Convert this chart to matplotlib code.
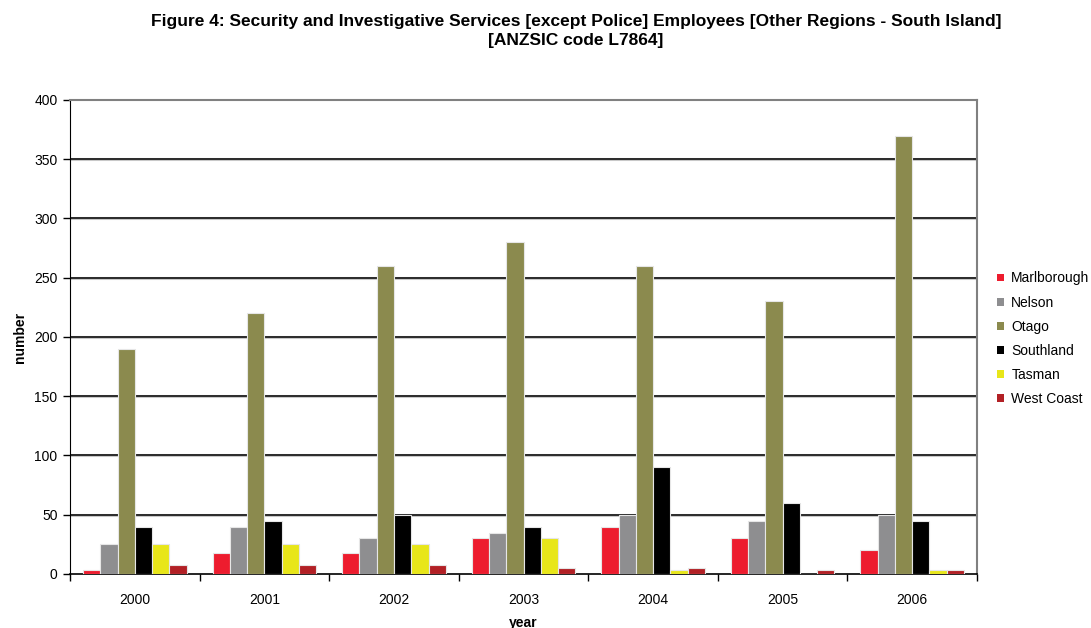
import numpy as np
import matplotlib
matplotlib.use("Agg")
import matplotlib.pyplot as plt
from matplotlib.patches import Patch

plt.rcParams['font.family'] = ['Liberation Sans', 'DejaVu Sans']

years = ['2000', '2001', '2002', '2003', '2004', '2005', '2006']
regions = ['Marlborough', 'Nelson', 'Otago', 'Southland', 'Tasman', 'West Coast']
marlborough = [3, 18, 18, 30, 40, 30, 20]
nelson = [25, 40, 30, 35, 50, 45, 50]
otago = [190, 220, 260, 280, 260, 230, 370]
southland = [40, 45, 50, 40, 90, 60, 45]
tasman = [25, 25, 25, 30, 3, 0, 3]
west_coast = [8, 8, 8, 5, 5, 3, 3]
series = [marlborough, nelson, otago, southland, tasman, west_coast]
colors = ['#ED1C2E', '#8E8E90', '#8B8A4E', '#000000', '#E8E619', '#B22025']

fig = plt.figure(figsize=(10.91, 6.28), dpi=100)
ax = fig.add_axes([0.0642, 0.086, 0.8313, 0.7548])

n = len(regions)
group = 0.8
w = group / n
x = np.arange(len(years))
for i, (vals, c) in enumerate(zip(series, colors)):
    offs = -group / 2 + w * (i + 0.5)
    ax.bar(x + offs, vals, width=w, color=c, edgecolor='#e6e6e6',
           linewidth=0.8, zorder=3)

ax.set_xlim(-0.5, len(years) - 0.5)
ax.set_ylim(0, 400)
ax.set_yticks(np.arange(0, 401, 50))
ax.set_xticks(x)
ax.set_xticklabels(years)
ax.set_xticks(np.arange(-0.5, len(years), 1), minor=True)
ax.tick_params(axis='x', which='major', length=0, pad=14, labelsize=10)
ax.tick_params(axis='x', which='minor', length=5, width=1, direction='out')
ax.tick_params(axis='y', length=5, width=1, direction='out', labelsize=10, pad=4)

for yv in range(50, 400, 50):
    ax.axhline(yv, color='#c8c8c8', lw=2.2, zorder=1)
    ax.axhline(yv, color='#000000', lw=1.1, zorder=2)

ax.spines['left'].set_color('black')
ax.spines['bottom'].set_color('black')
ax.spines['bottom'].set_linewidth(1.2)
ax.spines['top'].set_color('#808080')
ax.spines['right'].set_color('#808080')
ax.spines['top'].set_linewidth(1.5)
ax.spines['right'].set_linewidth(1.5)

ax.set_xlabel('year', fontsize=10, fontweight='bold', labelpad=6)
ax.set_ylabel('number', fontsize=10, fontweight='bold', labelpad=5)

fig.text(0.528, 0.977, 'Figure 4: Security and Investigative Services [except Police] Employees [Other Regions - South Island]\n[ANZSIC code L7864]',
         ha='center', va='top', fontsize=12.5, fontweight='bold', linespacing=1.28)

handles = [Patch(facecolor=c, edgecolor='none') for c in colors]
fig.legend(handles, regions, loc='center left', bbox_to_anchor=(0.904, 0.4605),
           frameon=False, fontsize=10, handlelength=0.5, handleheight=0.5,
           handletextpad=0.5, labelspacing=0.73, borderpad=0.3)

fig.savefig('out.png', dpi=100)
